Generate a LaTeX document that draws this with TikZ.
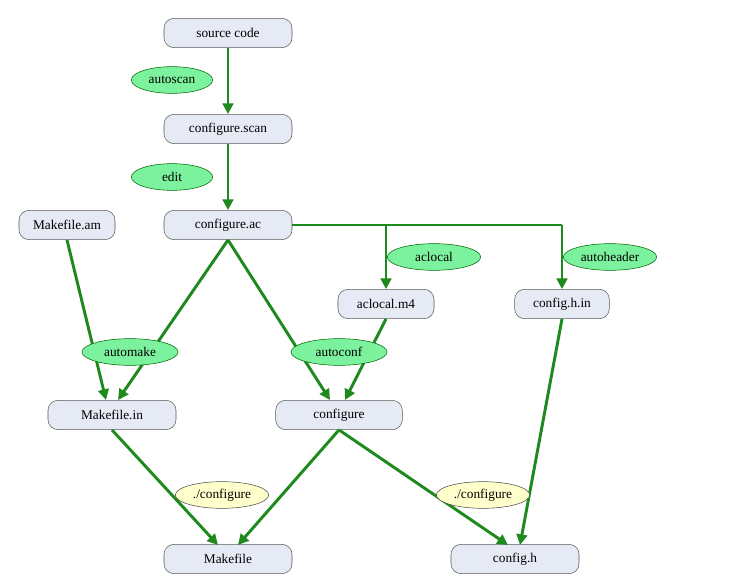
\documentclass[tikz,border=0pt]{standalone}
\usepackage{fontspec}
\setmainfont{Liberation Serif}
\usetikzlibrary{shapes.geometric,arrows.meta}
\definecolor{nfill}{HTML}{E6EAF4}
\definecolor{gfill}{HTML}{7DF29E}
\definecolor{yfill}{HTML}{FFFFCC}
\definecolor{ln}{HTML}{1E8A1E}
\begin{document}
\begin{tikzpicture}[x=0.75pt,y=-0.75pt,
  file/.style={draw=gray!70!black,fill=nfill,rounded corners=7.5pt,minimum height=22pt,font=\fontsize{10}{12}\selectfont,inner sep=2pt},
  tool/.style={ellipse,draw=green!40!black,fill=gfill,minimum width=61pt,minimum height=20pt,inner sep=0pt,font=\fontsize{10}{12}\selectfont},
  run/.style={ellipse,draw=gray!60!black,fill=yfill,minimum width=70pt,minimum height=20pt,inner sep=0pt,font=\fontsize{10}{12}\selectfont},
  con/.style={draw=ln,line width=2.2pt},
  arr/.style={con,-{Triangle[length=8pt,width=8pt]}}]
\useasboundingbox (0,0) rectangle (729,588);
\node[file,minimum width=96pt] (src) at (228,33) {source code};
\node[file,minimum width=96pt] (scan) at (228,129) {configure.scan};
\node[file,minimum width=96pt] (ac) at (228,225) {configure.ac};
\node[file,minimum width=72pt] (am) at (67,225) {Makefile.am};
\node[file,minimum width=72pt] (m4) at (386,304) {aclocal.m4};
\node[file,minimum width=71pt] (hin) at (562,304) {config.h.in};
\node[file,minimum width=96pt] (min) at (112,415) {Makefile.in};
\node[file,minimum width=95pt] (cfg) at (339,415) {configure};
\node[file,minimum width=96pt] (mk) at (228,559) {Makefile};
\node[file,minimum width=96pt] (ch) at (515,559) {config.h};
\coordinate (j1) at (386,225);
\coordinate (j2) at (562,225);
\draw[arr] (src) -- (scan);
\draw[arr] (scan) -- (ac);
\draw[con] (ac.east) -- (j2);
\draw[arr] (j1) -- (m4);
\draw[arr] (j2) -- (hin);
\draw[arr] (67,240) -- (106,400);
\draw[arr] (ac.south) -- (118,400);
\draw[arr] (ac.south) -- (330,400);
\draw[arr] (m4.south) -- (345,400);
\draw[arr] (min.south) -- (218,545);
\draw[arr] (cfg.south) -- (238,545);
\draw[arr] (cfg.south) -- (508,545);
\draw[arr] (hin.south) -- (520,545);
\node[tool] (t1) at (172,80) {autoscan};
\node[tool] (t2) at (172,177) {edit};
\node[tool,minimum width=70pt] (t3) at (434,257) {aclocal};
\node[tool,minimum width=70pt] (t4) at (610,257) {autoheader};
\node[tool,minimum width=72pt] (t5) at (130,352) {automake};
\node[tool,minimum width=72pt] (t6) at (339,352) {autoconf};
\node[run] (r1) at (222,495) {./configure};
\node[run] (r2) at (483,495) {./configure};
\end{tikzpicture}
\end{document}
